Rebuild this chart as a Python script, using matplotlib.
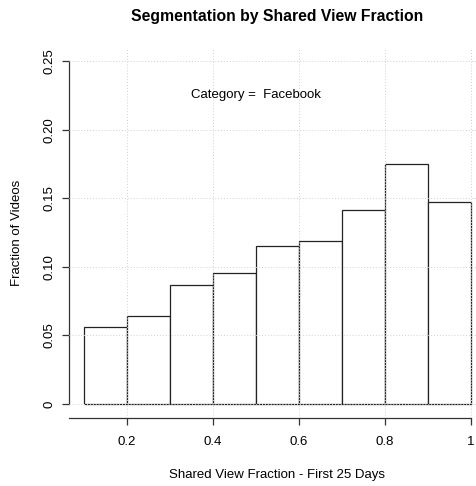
import matplotlib
matplotlib.use("Agg")
import matplotlib.pyplot as plt
import numpy as np

plt.rcParams['font.family'] = ['Liberation Sans', 'DejaVu Sans']

bin_edges = [0.1, 0.2, 0.3, 0.4, 0.5, 0.6, 0.7, 0.8, 0.9, 1.0]
fractions = [0.056, 0.064, 0.0865, 0.0952, 0.1152, 0.1186, 0.1415, 0.1748, 0.1469]
x_ticks = [0.2, 0.4, 0.6, 0.8, 1.0]
x_tick_labels = ["0.2", "0.4", "0.6", "0.8", "1"]
y_ticks = [0, 0.05, 0.10, 0.15, 0.20, 0.25]
y_tick_labels = ["0", "0.05", "0.10", "0.15", "0.20", "0.25"]
title = "Segmentation by Shared View Fraction"
x_label = "Shared View Fraction - First 25 Days"
y_label = "Fraction of Videos"
annotation = "Category =  Facebook"

W, H = 477, 486
fig = plt.figure(figsize=(W / 100, H / 100), dpi=100)
ax = fig.add_axes([69 / W, (H - 418) / H, 408 / W, 370 / H])

lefts = np.array(bin_edges[:-1])
widths = np.diff(bin_edges)
ax.bar(lefts, fractions, width=widths, align='edge', facecolor='white',
       edgecolor='#222222', linewidth=0.9, zorder=2)

ax.set_xlim(0.065, 1.014)
ax.set_ylim(-0.0102, 0.2595)

for xv in x_ticks:
    ax.axvline(xv, color='#d0d0d0', linestyle=(0, (1, 2)), linewidth=0.7, zorder=3)
for yv in y_ticks:
    ax.axhline(yv, color='#d0d0d0', linestyle=(0, (1, 2)), linewidth=0.7, zorder=3)

ax.set_xticks(x_ticks)
ax.set_xticklabels(x_tick_labels)
ax.set_yticks(y_ticks)
ax.set_yticklabels(y_tick_labels, rotation=90, va='center')

for s in ['top', 'right']:
    ax.spines[s].set_visible(False)
ax.spines['left'].set_bounds(0, 0.25)
ax.spines['bottom'].set_bounds(0.065, 1.0)
for s in ['left', 'bottom']:
    ax.spines[s].set_color('#333333')
    ax.spines[s].set_linewidth(0.9)

ax.tick_params(axis='both', length=5, width=0.9, color='#333333', labelsize=9.5)
ax.tick_params(axis='x', pad=8)
ax.tick_params(axis='y', pad=5)

ax.text(0.5, 0.2256, annotation, ha='center', va='center', fontsize=9.5)

fig.text(277.5 / W, 1 - 17 / H, title, ha='center', va='center', fontsize=11.3, fontweight='bold')
fig.text(277.5 / W, 1 - 475 / H, x_label, ha='center', va='center', fontsize=9.5)
fig.text(17 / W, 1 - 232.5 / H, y_label, ha='center', va='center', rotation=90, fontsize=9.5)

fig.savefig("out.png", dpi=100)
